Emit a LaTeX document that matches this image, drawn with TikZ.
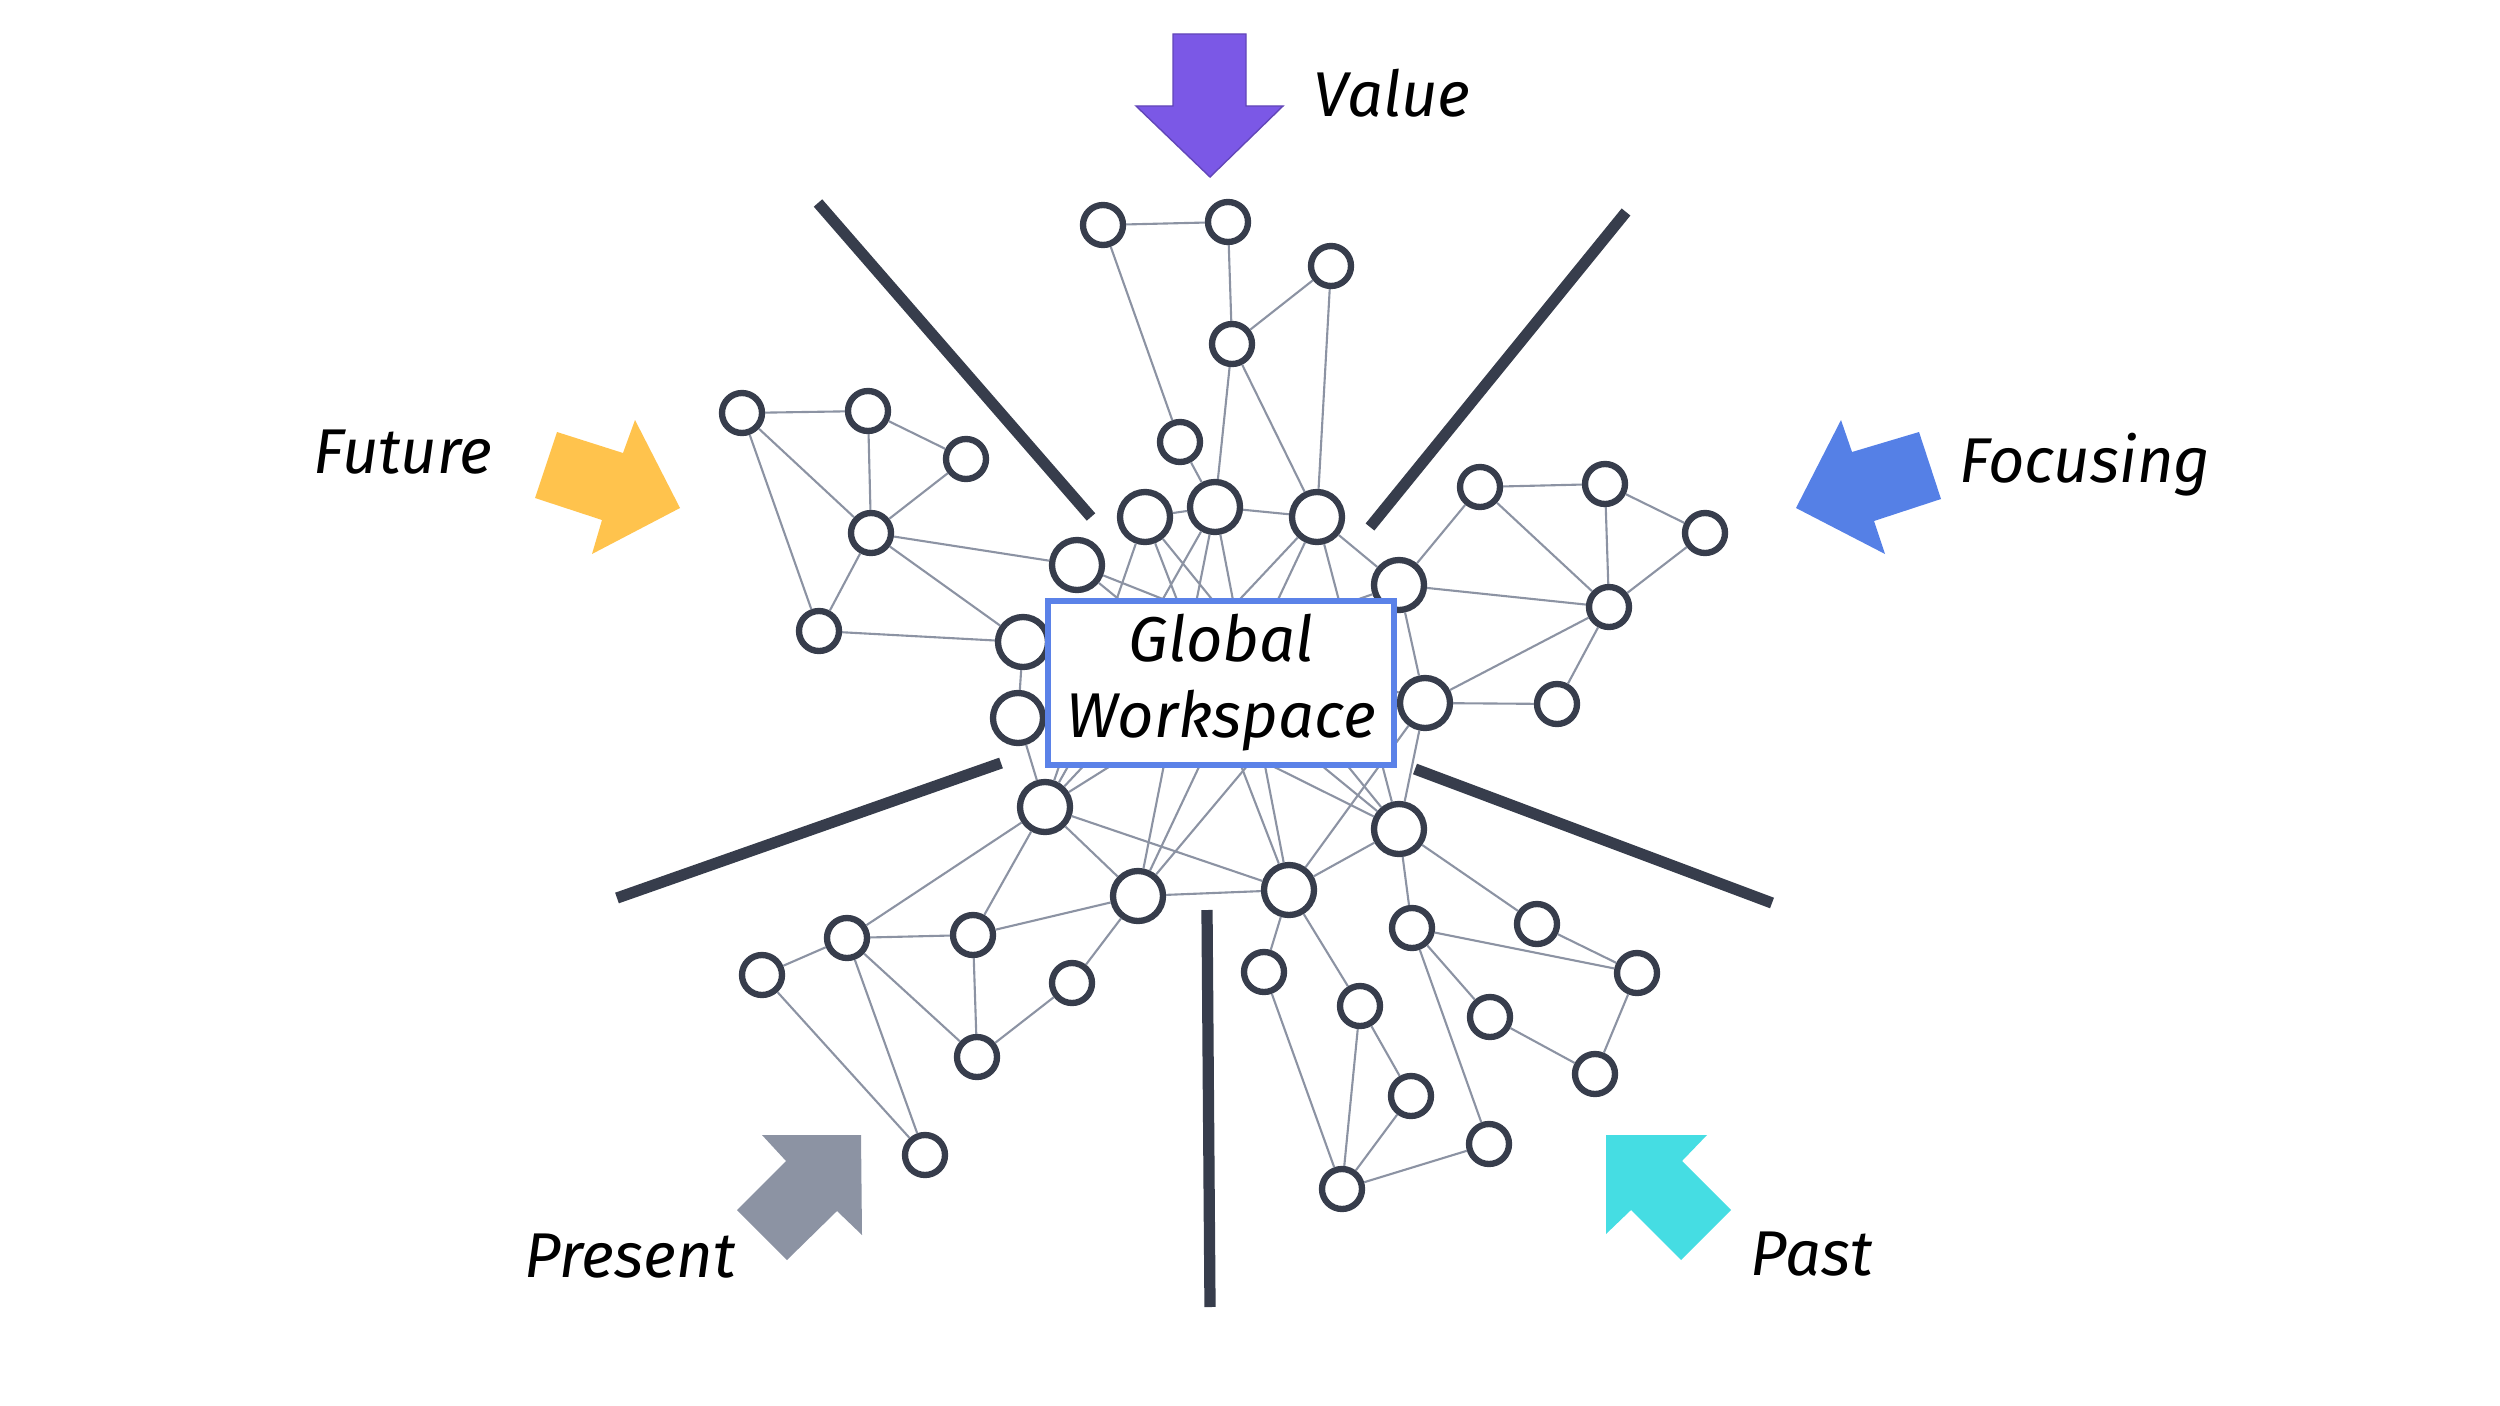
\documentclass[tikz,border=0pt]{standalone}
\usepackage{fontspec}
\setmainfont{Fira Sans}
\definecolor{ink}{HTML}{373D4C}
\definecolor{wire}{HTML}{8C93A3}
\definecolor{frame}{HTML}{5B82E8}
\definecolor{violet}{HTML}{7B58E6}
\definecolor{amber}{HTML}{FFC34D}
\definecolor{cobalt}{HTML}{5580E6}
\definecolor{slate}{HTML}{8C93A3}
\definecolor{aqua}{HTML}{45DDE3}
\begin{document}
\begin{tikzpicture}[
  cell/.style={circle,draw=ink,line width=1.8pt,fill=white,minimum size=0.40cm,inner sep=0pt},
  hub/.style={cell,minimum size=0.50cm},
  link/.style={wire,line width=0.6pt},
  wall/.style={ink,line width=3.2pt},
  tag/.style={font=\fontsize{18}{21.6}\selectfont\itshape,anchor=base,inner sep=0pt}]
  \useasboundingbox (0,0) rectangle (25,-14.06);
  % separators
  \draw[wall] (8.18,-2.03) -- (10.91,-5.17);
  \draw[wall] (16.26,-2.12) -- (13.70,-5.27);
  \draw[wall] (6.17,-8.98) -- (10.01,-7.63);
  \draw[wall] (14.15,-7.69) -- (17.72,-9.03);
  \draw[wall] (12.07,-9.10) -- (12.10,-13.07);
  % arrows and their words
  \filldraw[fill=violet,draw=violet!80!black,line width=0.4pt] (11.73,-0.34) -- (12.46,-0.34) -- (12.46,-1.06) -- (12.83,-1.06) -- (12.10,-1.77) -- (11.36,-1.06) -- (11.73,-1.06) -- cycle;
  \fill[amber] (5.57,-4.32) -- (6.23,-4.53) -- (6.35,-4.20) -- (6.80,-5.08) -- (5.92,-5.54) -- (6.02,-5.20) -- (5.35,-4.98) -- cycle;
  \fill[cobalt] (18.41,-4.20) -- (18.52,-4.52) -- (19.19,-4.32) -- (19.41,-4.99) -- (18.74,-5.21) -- (18.85,-5.54) -- (17.96,-5.08) -- cycle;
  \fill[slate] (7.62,-11.35) -- (8.61,-11.35) -- (8.62,-12.35) -- (8.37,-12.11) -- (7.87,-12.60) -- (7.37,-12.10) -- (7.86,-11.61) -- cycle;
  \fill[aqua] (16.06,-11.35) -- (17.07,-11.35) -- (16.82,-11.61) -- (17.31,-12.10) -- (16.81,-12.60) -- (16.31,-12.10) -- (16.06,-12.34) -- cycle;
  \node[tag] (value) at (13.92,-1.17) {Value};
  \node[tag] (future) at (4.03,-4.73) {Future};
  \node[tag] (focusing) at (20.85,-4.82) {Focusing};
  \node[tag] (present) at (6.30,-12.77) {Present};
  \node[tag] (past) at (18.12,-12.75) {Past};
  % hubs round the workspace
  \node[hub] (m1) at (11.45,-5.17) {};
  \node[hub] (m2) at (12.15,-5.07) {};
  \node[hub] (m3) at (13.17,-5.17) {};
  \node[hub] (m4) at (10.77,-5.65) {};
  \node[hub] (m5) at (13.99,-5.85) {};
  \node[hub] (m6) at (10.23,-6.42) {};
  \node[hub] (m7) at (10.18,-7.18) {};
  \node[hub] (m8) at (14.25,-7.03) {};
  \node[hub] (m9) at (10.45,-8.07) {};
  \node[hub] (m10) at (13.99,-8.29) {};
  \node[hub] (m11) at (11.38,-8.96) {};
  \node[hub] (m12) at (12.89,-8.90) {};
  % top group
  \node[cell] (t1) at (11.03,-2.25) {};
  \node[cell] (t2) at (12.28,-2.22) {};
  \node[cell] (t3) at (13.31,-2.66) {};
  \node[cell] (t4) at (12.32,-3.44) {};
  \node[cell] (t5) at (11.80,-4.42) {};
  % left group
  \node[cell] (l1) at (7.42,-4.13) {};
  \node[cell] (l2) at (8.68,-4.11) {};
  \node[cell] (l3) at (9.66,-4.59) {};
  \node[cell] (l4) at (8.71,-5.33) {};
  \node[cell] (l5) at (8.19,-6.31) {};
  % right group
  \node[cell] (r1) at (14.80,-4.87) {};
  \node[cell] (r2) at (16.05,-4.84) {};
  \node[cell] (r3) at (17.05,-5.33) {};
  \node[cell] (r4) at (16.09,-6.07) {};
  \node[cell] (r5) at (15.57,-7.04) {};
  % lower left group
  \node[cell] (p1) at (7.62,-9.75) {};
  \node[cell] (p2) at (8.47,-9.38) {};
  \node[cell] (p3) at (9.73,-9.35) {};
  \node[cell] (p4) at (10.72,-9.83) {};
  \node[cell] (p5) at (9.77,-10.57) {};
  \node[cell] (p6) at (9.25,-11.55) {};
  % lower right group
  \node[cell] (q1) at (12.64,-9.72) {};
  \node[cell] (q2) at (13.60,-10.06) {};
  \node[cell] (q3) at (14.12,-9.28) {};
  \node[cell] (q4) at (15.37,-9.24) {};
  \node[cell] (q5) at (16.37,-9.73) {};
  \node[cell] (q6) at (14.90,-10.17) {};
  \node[cell] (q7) at (15.95,-10.74) {};
  \node[cell] (q8) at (14.11,-10.96) {};
  \node[cell] (q9) at (14.89,-11.44) {};
  \node[cell] (q10) at (13.42,-11.89) {};
  % links
  \draw[link] (t1) -- (t2) (t1) -- (t5) (t2) -- (t4) (t3) -- (t4) (t3) -- (m3) (t4) -- (m2) (t4) -- (m3) (t5) -- (m2);
  \draw[link] (m1) -- (m2) (m2) -- (m3) (m3) -- (m5);
  \draw[link] (l1) -- (l2) (l2) -- (l3) (l2) -- (l4) (l3) -- (l4) (l1) -- (l4) (l1) -- (l5) (l4) -- (l5) (l4) -- (m4) (l4) -- (m6) (l5) -- (m6);
  \draw[link] (m6) -- (m7) (m7) -- (m9);
  \draw[link] (m5) -- (r1) (r1) -- (r2) (r2) -- (r3) (r2) -- (r4) (r1) -- (r4) (r3) -- (r4) (m5) -- (r4) (m5) -- (m8) (m8) -- (r4) (m8) -- (r5) (r4) -- (r5) (m8) -- (m10);
  \draw[link] (m9) -- (p2) (m9) -- (p3) (m9) -- (m11) (m9) -- (m12) (p1) -- (p2) (p2) -- (p3) (p3) -- (m11) (p2) -- (p6) (p1) -- (p6) (p2) -- (p5) (p3) -- (p5) (p5) -- (p4) (p4) -- (m11) (m11) -- (m12);
  \draw[link] (q1) -- (m12) (m12) -- (m10) (m10) -- (q3) (m10) -- (q4) (q1) -- (q10) (m12) -- (q2) (q2) -- (q10) (q2) -- (q8) (q8) -- (q10) (q10) -- (q9);
  \draw[link] (q3) -- (q9) (q3) -- (q5) (q3) -- (q6) (q6) -- (q7) (q7) -- (q5) (q4) -- (q5);
  % links hidden under the workspace
  \draw[link] (m1) -- (m9) (m1) -- (m12) (m1) -- (m10) (m2) -- (m9) (m2) -- (m11) (m2) -- (m12) (m3) -- (m9) (m3) -- (m11) (m3) -- (m10);
  \draw[link] (m4) -- (m8) (m4) -- (m10) (m5) -- (m7) (m5) -- (m9) (m5) -- (m11) (m6) -- (m10) (m8) -- (m12);
  \node[draw=frame,line width=1.9pt,fill=white,minimum width=3.46cm,minimum height=1.64cm,align=center,font=\fontsize{18}{21.6}\selectfont\itshape] (gw) at (12.21,-6.83) {Global\\Workspace};
\end{tikzpicture}
\end{document}
